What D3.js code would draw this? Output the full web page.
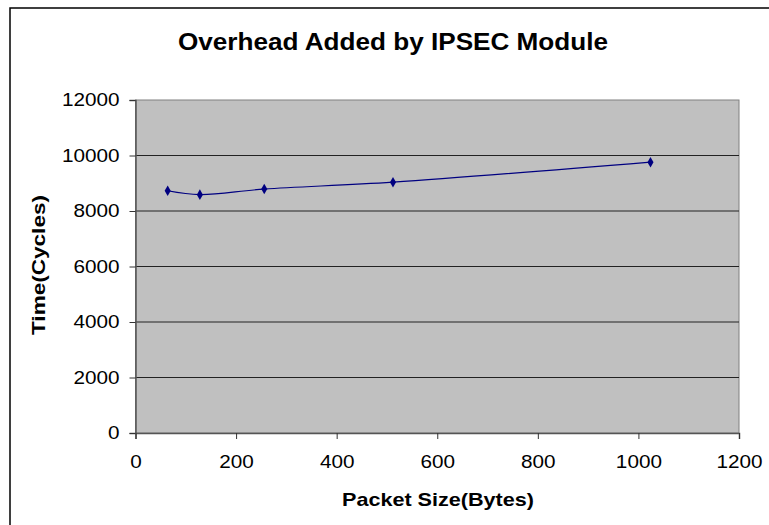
<!DOCTYPE html>
<html>
<head>
<meta charset="utf-8">
<script src="https://cdn.jsdelivr.net/npm/d3@7"></script>
<style>
  body { margin: 0; background: #fff; }
  svg { display: block; }
  text { font-family: "Liberation Sans", Arial, sans-serif; fill: #000; }
</style>
</head>
<body>
<div id="chart"></div>
<script>
// data
const packetSizes = [64, 128, 256, 512, 1024];
const cycles = [8730, 8590, 8790, 9040, 9760];
const xTicks = [0, 200, 400, 600, 800, 1000, 1200];
const yTicks = [0, 2000, 4000, 6000, 8000, 10000, 12000];

const W = 769, H = 525;
const margin = {top: 100, right: 30, bottom: 92, left: 135.5};
const width = 739 - margin.left, height = 433 - margin.top;
// the original text is a bit wider than Arial at the same height
const stretch = 1.12;

const svg = d3.select("#chart").append("svg")
    .attr("width", W)
    .attr("height", H);

// outer chart frame (runs off the right and bottom of the picture)
svg.append("rect")
    .attr("x", 10).attr("y", 8)
    .attr("width", W + 20).attr("height", H + 20)
    .attr("fill", "none")
    .attr("stroke", "#000")
    .attr("stroke-width", 1.5);

const g = svg.append("g")
    .attr("transform", "translate(" + margin.left + "," + margin.top + ")");

const x = d3.scaleLinear().domain([0, 1200]).range([0, width]);
const y = d3.scaleLinear().domain([0, 12000]).range([height, 0]);

// grey plot area
g.append("rect")
    .attr("width", width).attr("height", height)
    .attr("fill", "#c0c0c0")
    .attr("stroke", "#808080")
    .attr("stroke-width", 1);

// gridlines
g.selectAll(".grid")
    .data(yTicks.filter(d => d > 0 && d < 12000))
    .enter()
    .append("line")
    .attr("x1", 0).attr("x2", width)
    .attr("y1", d => y(d)).attr("y2", d => y(d))
    .attr("stroke", "#222")
    .attr("stroke-width", 1);

// axes
const yAxis = g.append("g")
    .call(d3.axisLeft(y).tickValues(yTicks).tickSize(6).tickPadding(10).tickFormat(d3.format("d")));
const xAxis = g.append("g")
    .attr("transform", "translate(0," + height + ")")
    .call(d3.axisBottom(x).tickValues(xTicks).tickSize(6).tickPadding(16).tickFormat(d3.format("d")));

[xAxis, yAxis].forEach(a => {
    a.select(".domain").attr("stroke", "#555").attr("stroke-width", 1.5);
    a.selectAll(".tick line").attr("stroke", "#333");
    a.selectAll("text")
        .style("font-family", "'Liberation Sans', Arial, sans-serif")
        .style("font-size", "18.5px")
        .attr("fill", "#000")
        .each(function () {
            const len = this.getComputedTextLength();
            d3.select(this).attr("textLength", len * stretch).attr("lengthAdjust", "spacingAndGlyphs");
        });
});

// the series, smoothed like the original
const line = d3.line()
    .x((d, i) => x(packetSizes[i]))
    .y(d => y(d))
    .curve(d3.curveCatmullRom.alpha(0.5));

g.append("path")
    .datum(cycles)
    .attr("d", line)
    .attr("fill", "none")
    .attr("stroke", "#000080")
    .attr("stroke-width", 1.2);

g.selectAll(".marker")
    .data(cycles)
    .enter()
    .append("path")
    .attr("d", d3.symbol().type(d3.symbolDiamond).size(32))
    .attr("transform", (d, i) => "translate(" + x(packetSizes[i]) + "," + y(d) + ")")
    .attr("fill", "#000080");

// titles
svg.append("text")
    .attr("x", 393).attr("y", 50)
    .attr("text-anchor", "middle")
    .attr("textLength", 430).attr("lengthAdjust", "spacingAndGlyphs")
    .style("font-size", "23px")
    .style("font-weight", "bold")
    .text("Overhead Added by IPSEC Module");

svg.append("text")
    .attr("x", 438).attr("y", 506)
    .attr("text-anchor", "middle")
    .attr("textLength", 192).attr("lengthAdjust", "spacingAndGlyphs")
    .style("font-size", "19px")
    .style("font-weight", "bold")
    .text("Packet Size(Bytes)");

svg.append("text")
    .attr("transform", "translate(45,265) rotate(-90)")
    .attr("text-anchor", "middle")
    .attr("textLength", 140).attr("lengthAdjust", "spacingAndGlyphs")
    .style("font-size", "19px")
    .style("font-weight", "bold")
    .text("Time(Cycles)");
</script>
</body>
</html>
